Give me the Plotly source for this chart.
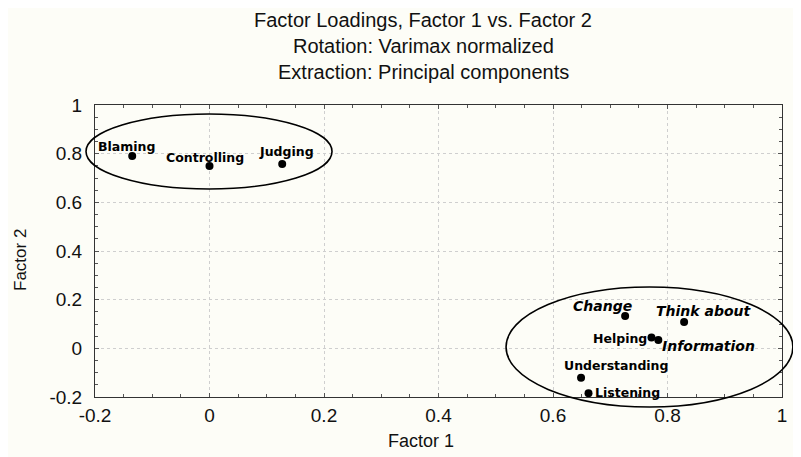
import plotly.graph_objects as go

# ---- data ----
labels = ["Blaming", "Controlling", "Judging", "Change", "Think about",
          "Helping", "Information", "Understanding", "Listening"]
factor1 = [-0.135, 0.000, 0.127, 0.726, 0.829, 0.772, 0.784, 0.649, 0.662]
factor2 = [0.790, 0.749, 0.758, 0.133, 0.108, 0.045, 0.034, -0.121, -0.185]
emphasized = [False, False, False, True, True, False, True, False, False]

# ellipses (data units): x0, x1, y0, y1
ellipses = [(-0.2157, 0.214, 0.655, 0.963), (0.518, 1.019, -0.241, 0.252)]

title_lines = ["Factor Loadings, Factor 1 vs. Factor 2",
               "Rotation: Varimax normalized",
               "Extraction: Principal components"]
x_title = "Factor 1"
y_title = "Factor 2"
x_ticks = [-0.2, 0, 0.2, 0.4, 0.6, 0.8, 1]
y_ticks = [-0.2, 0, 0.2, 0.4, 0.6, 0.8, 1]

# ---- styling / layout ----
xr = [-0.2, 1.0]
yr = [-0.2, 1.0]
OFF = 8  # page body margin
W, H = 801 - OFF, 457 - OFF
# target plot area in window pixels: x 95..782, y 105..397
L, T = 95 - OFF, 105 - OFF
R = (OFF + W) - 782
B = (OFF + H) - 397
pw, ph = W - L - R, H - T - B
bg = "#fdfdf7"

# label offsets in pixels (dx, dy up)
label_offsets = [(-6, 10), (-5, 9), (4, 12), (-23, 10), (20, 11),
                 (-31, -1), (50, -6), (35, 12), (39, 1)]


def px_to_paper_x(xpx):
    return (xpx - OFF - L) / pw


def px_to_paper_y(ypx):
    return 1 - (ypx - OFF - T) / ph


def to_paper_x(v):
    return (v - xr[0]) / (xr[1] - xr[0])


def to_paper_y(v):
    return (v - yr[0]) / (yr[1] - yr[0])


fig = go.Figure()
fig.add_trace(go.Scatter(
    x=factor1, y=factor2, mode="markers",
    marker=dict(color="black", size=8),
    cliponaxis=False, hoverinfo="text", text=labels,
))

for lab, x, y, emp, (dx, dy) in zip(labels, factor1, factor2, emphasized, label_offsets):
    if emp:
        font = dict(family="DejaVu Sans", size=14, color="black",
                    weight="bold", style="italic")
    else:
        font = dict(family="DejaVu Sans", size=12.5, color="black", weight="bold")
    fig.add_annotation(x=x, y=y, xref="x", yref="y", text=lab, showarrow=False,
                       xanchor="center", yanchor="middle", xshift=dx, yshift=dy,
                       font=font)

for (x0, x1, y0, y1) in ellipses:
    fig.add_shape(type="circle", xref="paper", yref="paper",
                  x0=to_paper_x(x0), x1=to_paper_x(x1),
                  y0=to_paper_y(y0), y1=to_paper_y(y1),
                  line=dict(color="black", width=1.6), layer="above")

# title lines
title_y_px = [20, 46, 72]
title_x_px = 423
for txt, ypx in zip(title_lines, title_y_px):
    fig.add_annotation(xref="paper", yref="paper",
                       x=px_to_paper_x(title_x_px), y=px_to_paper_y(ypx),
                       text=txt, showarrow=False, xanchor="center", yanchor="middle",
                       font=dict(family="Liberation Sans, Arial", size=20, color="#111"))

# axis titles
fig.add_annotation(xref="paper", yref="paper", x=px_to_paper_x(421), y=px_to_paper_y(441),
                   text=x_title, showarrow=False, xanchor="center", yanchor="middle",
                   font=dict(family="Liberation Sans, Arial", size=18, color="#111"))
fig.add_annotation(xref="paper", yref="paper", x=px_to_paper_x(20), y=px_to_paper_y(260),
                   text=y_title, showarrow=False, xanchor="center", yanchor="middle",
                   textangle=-90,
                   font=dict(family="Liberation Sans, Arial", size=17, color="#111"))

axis_common = dict(
    showline=True, linecolor="#333", linewidth=1, mirror="allticks",
    ticks="inside", ticklen=4, tickcolor="#555",
    showgrid=True, gridcolor="#cfcfcf", griddash="dot", gridwidth=1,
    zeroline=False,
    tickfont=dict(family="Liberation Sans, Arial", size=19, color="#111"),
)

fig.update_xaxes(range=xr, tickvals=x_ticks, ticktext=[f"{v:g}" for v in x_ticks],
                 ticklabelstandoff=1,
                 minor=dict(dtick=0.05, ticks="inside", ticklen=3, tickcolor="#555",
                            showgrid=False),
                 **axis_common)
fig.update_yaxes(range=yr, tickvals=y_ticks, ticktext=[f"{v:g}" for v in y_ticks],
                 ticklabelstandoff=8,
                 minor=dict(dtick=0.05, ticks="inside", ticklen=3, tickcolor="#555",
                            showgrid=False),
                 **axis_common)

fig.update_layout(
    width=W, height=H,
    margin=dict(l=L, r=R, t=T, b=B, autoexpand=False),
    paper_bgcolor=bg, plot_bgcolor=bg,
    showlegend=False,
)

fig.write_html("out.html")
